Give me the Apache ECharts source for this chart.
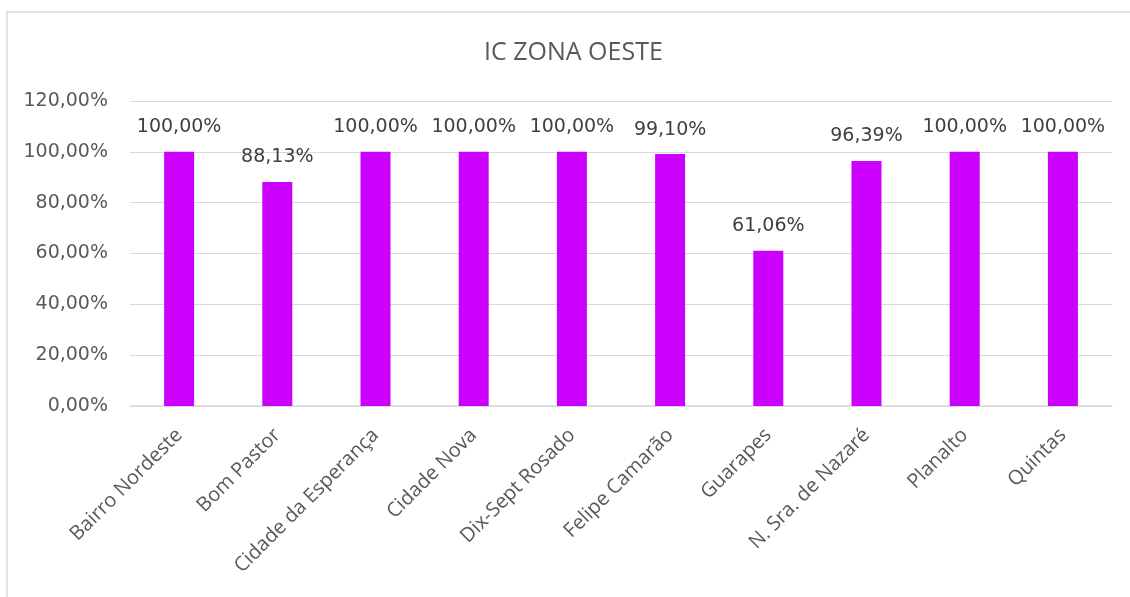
<!DOCTYPE html>
<html lang="pt">
<head>
  <meta charset="UTF-8">
  <title>IC ZONA OESTE</title>
</head>
<body>
<div id="chart"></div>
<style>
  html, body {
    margin: 0;
    width: 100%;
    height: 100%;
    background: #fff;
  }
  #chart {
    width: 1130px;
    height: 597px;
  }
</style>
<script src="https://cdn.jsdelivr.net/npm/echarts@6/dist/echarts.min.js"></script>
<script>
  const bairros = ['Bairro Nordeste', 'Bom Pastor', 'Cidade da Esperança', 'Cidade Nova', 'Dix-Sept Rosado',
    'Felipe Camarão', 'Guarapes', 'N. Sra. de Nazaré', 'Planalto', 'Quintas'];
  const valores = [1.0, 0.8813, 1.0, 1.0, 1.0, 0.991, 0.6106, 0.9639, 1.0, 1.0];

  const fmt = v => (v * 100).toFixed(2).replace('.', ',') + '%';
  const cinza = '#595959';
  const fonte = 'Open Sans, Liberation Sans, sans-serif';
  const fonteNum = 'DejaVu Sans, Verdana, sans-serif';

  const chart = echarts.init(document.getElementById('chart'));
  chart.setOption({
    animation: false,
    title: {
      text: 'IC ZONA OESTE',
      left: 479,
      top: 35,
      textStyle: {
        color: cinza,
        fontFamily: fonte,
        fontWeight: 'normal',
        fontSize: 25
      }
    },
    graphic: [{
      type: 'rect',
      shape: { x: 7, y: 12, width: 1130, height: 600 },
      style: { fill: 'none', stroke: '#d9d9d9', lineWidth: 1.5 },
      silent: true
    }],
    grid: {
      left: 130,
      right: 18,
      top: 101,
      bottom: 191
    },
    xAxis: {
      type: 'category',
      data: bairros,
      axisLine: { lineStyle: { color: '#d9d9d9', width: 1.5 } },
      axisTick: { show: false },
      axisLabel: {
        rotate: 45,
        interval: 0,
        margin: 26,
        color: cinza,
        fontFamily: fonte,
        fontSize: 20
      }
    },
    yAxis: {
      type: 'value',
      min: 0,
      max: 1.2,
      interval: 0.2,
      axisLine: { show: false },
      axisTick: { show: false },
      splitLine: { lineStyle: { color: '#d9d9d9', width: 1.2 } },
      axisLabel: {
        formatter: fmt,
        margin: 22,
        color: cinza,
        fontFamily: fonteNum,
        fontSize: 19
      }
    },
    series: [{
      type: 'bar',
      data: valores,
      barWidth: 30,
      itemStyle: { color: '#cc00ff' },
      label: {
        show: true,
        position: 'top',
        distance: 15,
        formatter: p => fmt(p.value),
        color: '#404040',
        fontFamily: fonteNum,
        fontSize: 19
      }
    }]
  });
</script>
</body>
</html>
